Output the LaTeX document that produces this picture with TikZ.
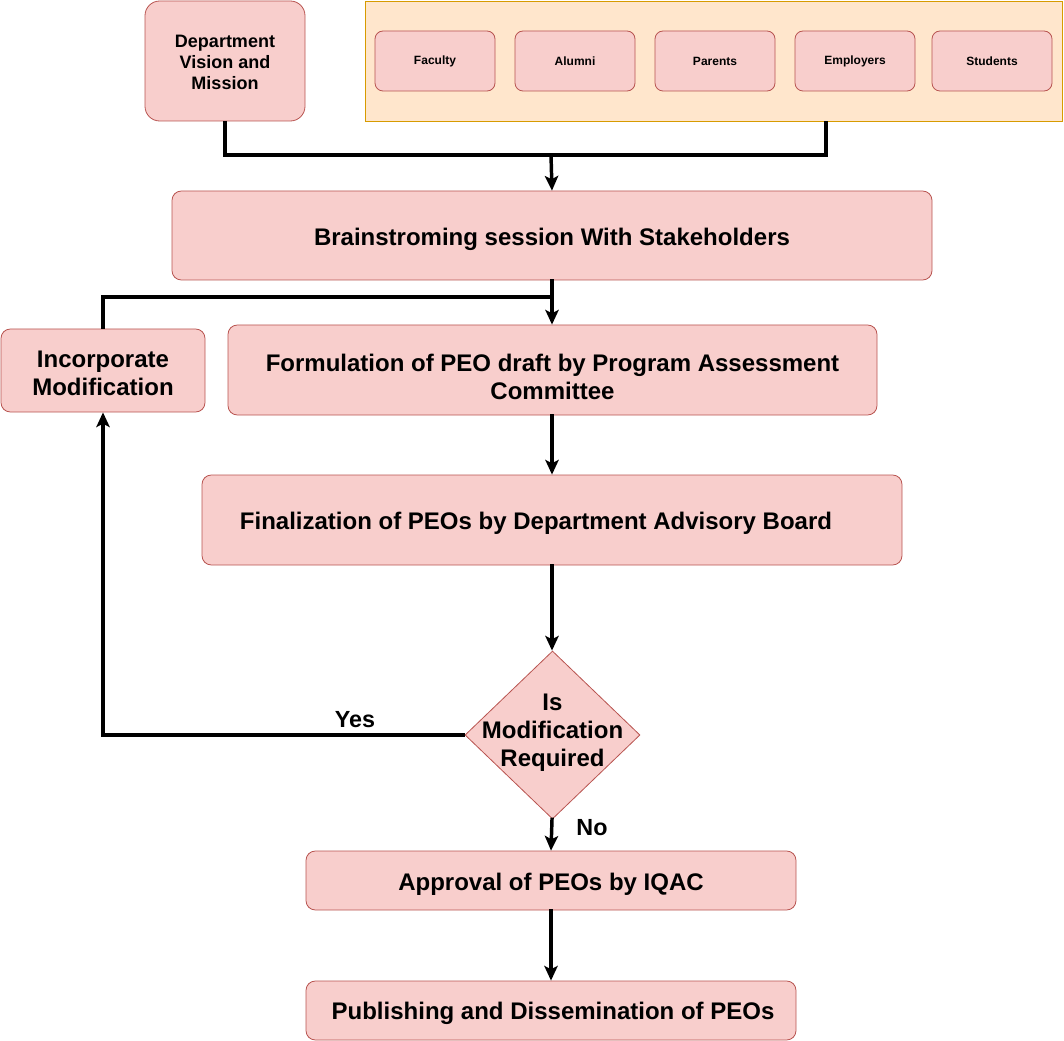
\documentclass[tikz,border=0pt]{standalone}
\usepackage{fontspec}
\setmainfont{Liberation Sans}
\usetikzlibrary{shapes.geometric,arrows.meta}
\definecolor{boxfill}{HTML}{F8CECC}
\definecolor{boxline}{HTML}{B85450}
\definecolor{grpfill}{HTML}{FFE6CC}
\definecolor{grpline}{HTML}{D79B00}
\begin{document}
\begin{tikzpicture}[x=0.75pt,y=-0.75pt,
  procbox/.style={draw=boxline,fill=boxfill,rounded corners=7pt,line width=0.6pt,inner sep=0pt},
  boxtext/.style={align=center,inner sep=0pt,font=\bfseries\fontsize{18}{21}\selectfont},
  smallbox/.style={draw=boxline,fill=boxfill,rounded corners=6pt,line width=0.6pt,
    minimum width=90pt,minimum height=45pt,inner sep=0pt,font=\bfseries\fontsize{9}{11}\selectfont},
  flow/.style={line width=2.6pt,draw=black,line cap=rect},
  arr/.style={flow,-{Stealth[length=11pt,width=10pt,inset=2.5pt]}},
  lbl/.style={font=\bfseries\fontsize{17.5}{21}\selectfont}]
\useasboundingbox (0,0) rectangle (1064,1041);

% inputs
\node[procbox,rounded corners=11pt,minimum width=120pt,minimum height=90pt] (dept) at (225,61) {};
\node[boxtext,font=\bfseries\fontsize{13.5}{15.75}\selectfont] (dept-t) at (225,62) {Department\\Vision and\\Mission};
\node[draw=grpline,fill=grpfill,line width=0.6pt,minimum width=522.75pt,minimum height=90pt,inner sep=0pt] (grp) at (713.5,61) {};
\node[smallbox] (fac) at (435,61) {Faculty};
\node[smallbox] (alu) at (575,61) {Alumni};
\node[smallbox] (par) at (715,61) {Parents};
\node[smallbox] (emp) at (855,61) {Employers};
\node[smallbox] (stu) at (992,61) {Students};

% process steps
\node[procbox,minimum width=570pt,minimum height=66.75pt] (brain) at (552,235.5) {};
\node[boxtext] (brain-t) at (552,239) {Brainstroming session With Stakeholders};
\node[procbox,minimum width=153pt,minimum height=62.25pt] (inc) at (103,370.5) {};
\node[boxtext] (inc-t) at (103,373) {Incorporate\\Modification};
\node[procbox,minimum width=486.75pt,minimum height=67.5pt] (form) at (552.5,370) {};
\node[boxtext] (form-t) at (552.5,377) {Formulation of PEO draft by Program Assessment\\Committee};
\node[procbox,minimum width=525pt,minimum height=67.5pt] (final) at (552,520) {};
\node[boxtext] (final-t) at (536,523) {Finalization of PEOs by Department Advisory Board};
\node[draw=boxline,fill=boxfill,line width=0.6pt,diamond,minimum width=131.25pt,minimum height=126pt,inner sep=0pt] (dec) at (552.5,735) {};
\node[boxtext] (dec-t) at (552.5,733) {Is\\Modification\\Required};
\node[procbox,minimum width=367.5pt,minimum height=44.25pt] (appr) at (551,880.5) {};
\node[boxtext] (appr-t) at (551,884) {Approval of PEOs by IQAC};
\node[procbox,minimum width=367.5pt,minimum height=44.25pt] (pub) at (551,1010.5) {};
\node[boxtext] (pub-t) at (553,1013.5) {Publishing and Dissemination of PEOs};

% junctions
\coordinate (j1) at (551,155);
\path (grp.south) ++(112.5,0) coordinate (gj);
\coordinate (j2) at (551,297);

% connectors
\draw[flow,line cap=butt] (dept.south) |- (gj |- j1) -- (gj);
\draw[arr] (j1) -- (brain.south |- brain.north);
\draw[arr] (brain.south) -- (form.north -| brain.south);
\draw[flow,line cap=butt] (inc.north) |- (j2);
\draw[arr] (form.south -| brain.south) -- (final.north -| brain.south);
\draw[arr] (final.south -| brain.south) -- (dec.north -| brain.south);
\draw[arr,line cap=butt] (dec.west) -| (inc.south);
\draw[arr] (dec.south -| brain.south) -- (appr.north);
\draw[arr] (appr.south) -- (pub.north);

% branch labels
\node[lbl] (yes) at (355,720) {Yes};
\node[lbl] (no) at (592,828) {No};
\end{tikzpicture}
\end{document}
